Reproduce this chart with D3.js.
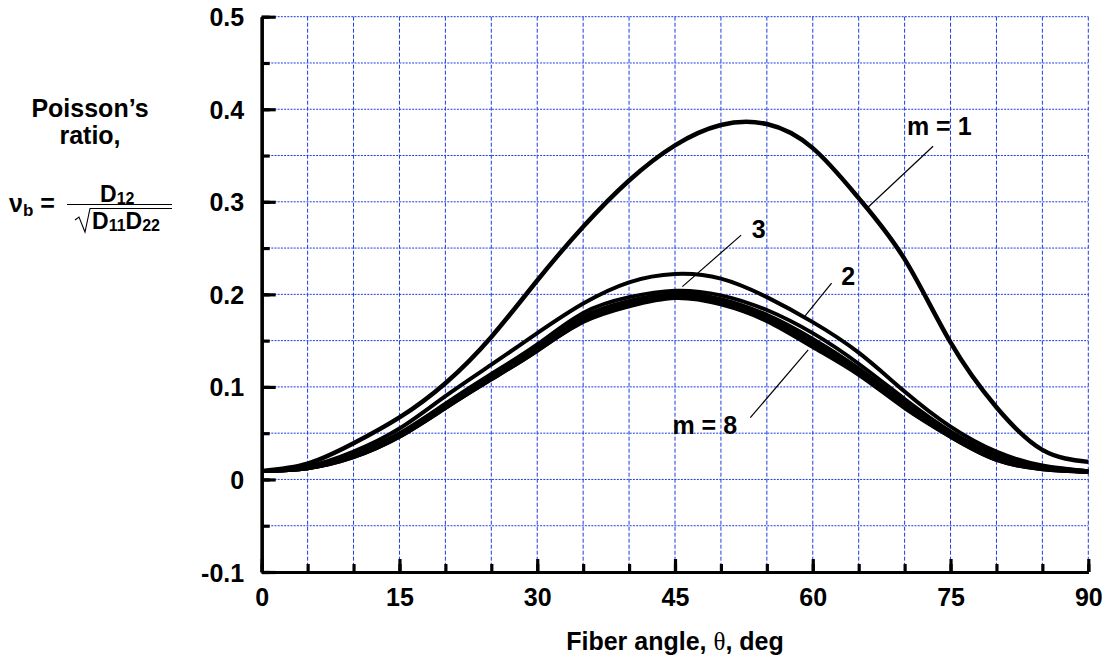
<!DOCTYPE html>
<html>
<head>
<meta charset="utf-8">
<script src="https://cdn.jsdelivr.net/npm/d3@7"></script>
<style>
  html, body { margin: 0; padding: 0; background: #fff; }
  svg { display: block; }
  text { font-family: "Liberation Sans", Arial, Helvetica, sans-serif; font-weight: bold; fill: #000; }
</style>
</head>
<body>
<svg id="chart" width="1112" height="659"></svg>
<script>
// ---------------- data ----------------
const angles = [0, 5, 10, 15, 20, 25, 30, 35, 40, 45, 50, 55, 60, 65, 70, 75, 80, 85, 90];
const nuM1 = [0.009, 0.017, 0.039, 0.067, 0.104, 0.154, 0.215, 0.273, 0.323, 0.361, 0.383, 0.384, 0.358, 0.304, 0.238, 0.148, 0.078, 0.032, 0.019];
const nuM2 = [0.009, 0.014, 0.030, 0.055, 0.090, 0.124, 0.158, 0.190, 0.213, 0.222, 0.217, 0.197, 0.170, 0.137, 0.095, 0.057, 0.030, 0.015, 0.009];
const nuM3 = [0.009, 0.013, 0.027, 0.050, 0.082, 0.114, 0.146, 0.180, 0.197, 0.204, 0.199, 0.183, 0.158, 0.125, 0.087, 0.052, 0.027, 0.014, 0.009];
const nuM4 = [0.009, 0.013, 0.026, 0.048, 0.080, 0.111, 0.143, 0.176, 0.193, 0.201, 0.195, 0.178, 0.152, 0.120, 0.083, 0.050, 0.025, 0.013, 0.009];
const nuM5 = [0.009, 0.012, 0.025, 0.047, 0.079, 0.110, 0.141, 0.174, 0.191, 0.199, 0.193, 0.175, 0.148, 0.117, 0.080, 0.048, 0.023, 0.012, 0.008];
const nuM6 = [0.009, 0.012, 0.025, 0.047, 0.078, 0.109, 0.140, 0.172, 0.189, 0.198, 0.191, 0.173, 0.146, 0.115, 0.079, 0.047, 0.022, 0.012, 0.008];
const nuM7 = [0.009, 0.012, 0.024, 0.046, 0.077, 0.108, 0.139, 0.171, 0.188, 0.197, 0.190, 0.172, 0.144, 0.114, 0.078, 0.046, 0.021, 0.011, 0.008];
const nuM8 = [0.009, 0.012, 0.024, 0.046, 0.077, 0.108, 0.139, 0.170, 0.187, 0.196, 0.189, 0.171, 0.143, 0.113, 0.077, 0.046, 0.021, 0.011, 0.008];

const xMajorTicks = [0, 15, 30, 45, 60, 75, 90];
const xMinorTicks = [0, 5, 10, 15, 20, 25, 30, 35, 40, 45, 50, 55, 60, 65, 70, 75, 80, 85, 90];
const yMajorTicks = [-0.1, 0, 0.1, 0.2, 0.3, 0.4, 0.5];
const yMinorTicks = [-0.1, -0.05, 0, 0.05, 0.1, 0.15, 0.2, 0.25, 0.3, 0.35, 0.4, 0.45, 0.5];
const yTickLabels = ["-0.1", "0", "0.1", "0.2", "0.3", "0.4", "0.5"];

// annotation labels with leader lines, in data coordinates
const labels = [
  { text: "m = 1", tx: 70.25, ty: 0.372, anchor: "start", x1: 73.1, y1: 0.360, x2: 65.9, y2: 0.293 },
  { text: "3",     tx: 53.35, ty: 0.2606, anchor: "start", x1: 52.2, y1: 0.264, x2: 45.8, y2: 0.2083 },
  { text: "2",     tx: 63.1, ty: 0.2101, anchor: "start", x1: 62.05, y1: 0.212, x2: 59.1, y2: 0.1758 },
  { text: "m = 8", tx: 44.72, ty: 0.0491, anchor: "start", x1: 53.2, y1: 0.0667, x2: 59.5, y2: 0.1399 }
];

// ---------------- layout ----------------
const svg = d3.select("#chart");
const plot = { left: 261.7, right: 1088.3, top: 16.7, bottom: 572 };
const x = d3.scaleLinear().domain([0, 90]).range([plot.left, plot.right]);
const y = d3.scaleLinear().domain([-0.1, 0.5]).range([plot.bottom, plot.top]);
const gridColor = "#1f3be0";
const FS = 25;

// grid
const grid = svg.append("g");
grid.selectAll("line.h").data(yMinorTicks.filter(v => v > -0.1)).join("line")
  .attr("x1", plot.left).attr("x2", plot.right)
  .attr("y1", d => y(d)).attr("y2", d => y(d))
  .attr("stroke", gridColor).attr("stroke-width", 1).attr("stroke-dasharray", "2,1.2");
grid.selectAll("line.v").data(xMinorTicks.filter(v => v > 0)).join("line")
  .attr("x1", d => x(d)).attr("x2", d => x(d))
  .attr("y1", plot.top).attr("y2", plot.bottom)
  .attr("stroke", gridColor).attr("stroke-width", 1).attr("stroke-dasharray", "4,2");

// curves
const seriesList = [
  { m: 8, vals: nuM8, w: 3.8 },
  { m: 7, vals: nuM7, w: 3.8 },
  { m: 6, vals: nuM6, w: 3.8 },
  { m: 5, vals: nuM5, w: 3.8 },
  { m: 4, vals: nuM4, w: 3.8 },
  { m: 3, vals: nuM3, w: 3.8 },
  { m: 2, vals: nuM2, w: 4.0 },
  { m: 1, vals: nuM1, w: 4.5 }
];
const line = d3.line().x(d => x(d[0])).y(d => y(d[1])).curve(d3.curveNatural);
svg.append("g").selectAll("path").data(seriesList).join("path")
  .attr("d", s => line(angles.map((a, i) => [a, s.vals[i]])))
  .attr("fill", "none").attr("stroke", "#000").attr("stroke-width", s => s.w)
  .attr("stroke-linejoin", "round");

// axes
const xAxisMinor = d3.axisBottom(x).tickValues(xMinorTicks).tickSize(-8).tickSizeOuter(0).tickFormat("");
const xAxisMajor = d3.axisBottom(x).tickValues(xMajorTicks).tickSize(-13).tickSizeOuter(0).tickPadding(17).tickFormat(d3.format("d"));
const yAxisMinor = d3.axisLeft(y).tickValues(yMinorTicks).tickSize(-8).tickSizeOuter(0).tickFormat("");
const yAxisMajor = d3.axisLeft(y).tickValues(yMajorTicks).tickSize(-14).tickSizeOuter(0).tickPadding(17.5)
  .tickFormat((d, i) => yTickLabels[i]);

function styleAxis(g) {
  g.select(".domain").attr("stroke", "#000").attr("stroke-width", 3.2);
  g.selectAll(".tick line").attr("stroke", "#000").attr("stroke-width", 3.2);
  g.selectAll(".tick text").attr("font-family", "Liberation Sans, Arial, sans-serif")
    .attr("font-weight", "bold").attr("font-size", FS).attr("fill", "#000");
}
svg.append("g").attr("transform", `translate(0,${plot.bottom})`).call(xAxisMinor).call(styleAxis);
const gx = svg.append("g").attr("transform", `translate(0,${plot.bottom})`).call(xAxisMajor).call(styleAxis);
gx.selectAll(".tick text").attr("dy", null).attr("y", 34);
svg.append("g").attr("transform", `translate(${plot.left},0)`).call(yAxisMinor).call(styleAxis);
const gy = svg.append("g").attr("transform", `translate(${plot.left},0)`).call(yAxisMajor).call(styleAxis);
gy.selectAll(".tick text").attr("dy", "0.36em");

// annotations
const ann = svg.append("g");
ann.selectAll("line").data(labels).join("line")
  .attr("x1", d => x(d.x1)).attr("y1", d => y(d.y1))
  .attr("x2", d => x(d.x2)).attr("y2", d => y(d.y2))
  .attr("stroke", "#000").attr("stroke-width", 1.2);
ann.selectAll("text").data(labels).join("text")
  .attr("x", d => x(d.tx)).attr("y", d => y(d.ty))
  .attr("text-anchor", d => d.anchor).attr("font-size", FS)
  .text(d => d.text);

// x-axis title
const xt = svg.append("text").attr("x", (plot.left + plot.right) / 2).attr("y", 650)
  .attr("text-anchor", "middle").attr("font-size", FS);
xt.append("tspan").text("Fiber angle, ");
xt.append("tspan").attr("font-family", "Liberation Serif, serif").attr("font-weight", "normal").text("θ");
xt.append("tspan").text(", deg");

// y-axis title
svg.append("text").attr("x", 90).attr("y", 117).attr("text-anchor", "middle").attr("font-size", FS).text("Poisson’s");
svg.append("text").attr("x", 90).attr("y", 144).attr("text-anchor", "middle").attr("font-size", FS).text("ratio,");

// formula  nu_b = D12 / sqrt(D11 D22)
const f = svg.append("g");
const lhs = f.append("text").attr("x", 9).attr("y", 212).attr("font-size", FS);
lhs.append("tspan").text("ν");
lhs.append("tspan").attr("font-size", 17).attr("dy", 4).text("b");
lhs.append("tspan").attr("dy", -4).text(" =");
f.append("line").attr("x1", 67).attr("x2", 172).attr("y1", 204.5).attr("y2", 204.5)
  .attr("stroke", "#000").attr("stroke-width", 1.1);
const num = f.append("text").attr("x", 100).attr("y", 201.5).attr("font-size", 23);
num.append("tspan").text("D");
num.append("tspan").attr("font-size", 16).attr("dy", 2).text("12");
const den = f.append("text").attr("x", 92).attr("y", 229).attr("font-size", 23);
den.append("tspan").text("D");
den.append("tspan").attr("font-size", 16).attr("dy", 2).text("11");
den.append("tspan").attr("dy", -2).text("D");
den.append("tspan").attr("font-size", 16).attr("dy", 2).text("22");
f.append("path").attr("d", "M75,220 L79,217 L85,232 L90,208.5 L172,208.5")
  .attr("fill", "none").attr("stroke", "#000").attr("stroke-width", 1.1);
</script>
</body>
</html>
